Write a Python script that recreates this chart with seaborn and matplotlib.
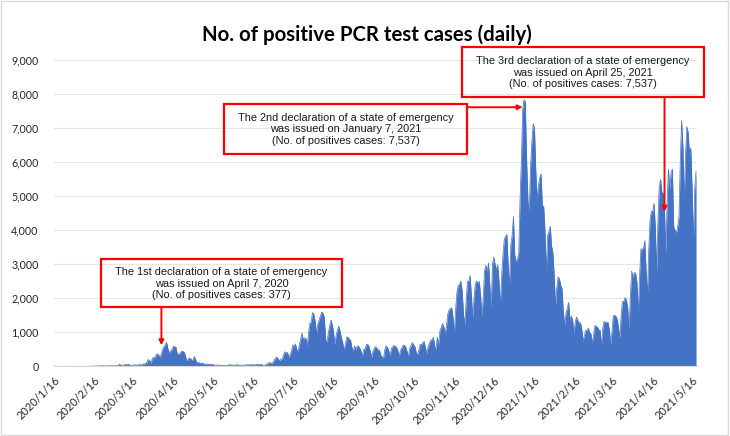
import numpy as np
import pandas as pd
import matplotlib
matplotlib.use("Agg")
import matplotlib.pyplot as plt
import matplotlib.dates as mdates
from matplotlib.patches import Rectangle
import seaborn as sns

# ---------------- data ----------------
start_date = "2020-01-16"
cases_2020_01 = [1, 0, 0, 0, 0, 0, 0, 0, 1, 1, 0, 0, 1, 2, 3, 1]
cases_2020_02 = [1, 0, 0, 0, 1, 0, 0, 0, 0, 0, 1, 0, 1, 4, 9, 5, 6, 6, 8, 9,
                 13, 23, 5, 10, 13, 13, 11, 20, 12]
cases_2020_03 = [15, 14, 12, 20, 33, 59, 39, 29, 33, 52, 54, 41, 64, 24, 15, 38,
                 32, 44, 39, 35, 53, 43, 39, 71, 65, 96, 112, 200, 173, 87, 225]
cases_2020_04 = [266, 235, 351, 368, 328, 256, 377, 515, 576, 644, 700, 507, 390,
                 457, 482, 584, 576, 568, 373, 346, 378, 434, 436, 436, 345, 203,
                 167, 248, 230, 200]
cases_2020_05 = [165, 294, 204, 87, 123, 96, 75, 96, 84, 57, 51, 73, 56, 46, 67,
                 56, 36, 36, 40, 33, 33, 26, 34, 20, 21, 14, 22, 35, 49, 42, 33]
cases_2020_06 = [37, 26, 48, 41, 30, 38, 22, 23, 40, 36, 43, 42, 43, 47, 43, 50,
                 42, 43, 68, 42, 57, 59, 33, 31, 38, 60, 78, 109, 101, 81]
cases_2020_07 = [125, 195, 250, 273, 208, 164, 216, 206, 352, 430, 384, 408, 259,
                 334, 457, 622, 594, 660, 509, 418, 630, 794, 981, 770, 839, 815,
                 598, 981, 1264, 1301, 1580]
cases_2020_08 = [1536, 1331, 958, 1237, 1356, 1485, 1595, 1568, 1442, 787, 700,
                 965, 1176, 1360, 1230, 1012, 636, 908, 1073, 1179, 1034, 840, 690,
                 478, 632, 859, 861, 803, 768, 560, 430]
cases_2020_09 = [600, 500, 590, 600, 530, 440, 290, 500, 510, 640, 650, 580, 440,
                 270, 430, 530, 580, 530, 470, 480, 320, 280, 210, 480, 600, 560,
                 460, 300, 520, 570]
cases_2020_10 = [620, 580, 560, 460, 290, 470, 540, 620, 620, 560, 440, 270, 530,
                 610, 700, 630, 580, 400, 340, 480, 650, 630, 700, 730, 540, 370,
                 570, 680, 770, 780, 850]
cases_2020_11 = [610, 480, 860, 640, 1040, 1140, 1260, 1160, 950, 1180, 1540, 1660,
                 1700, 1720, 1430, 950, 1690, 2200, 2380, 2420, 2500, 2190, 1520,
                 1230, 1940, 2500, 2500, 2670, 2060, 1420]
cases_2020_12 = [2030, 2430, 2510, 2430, 2500, 2060, 1460, 2050, 2810, 2970, 2780,
                 3040, 2390, 1680, 2990, 3210, 3000, 2830, 2990, 2500, 1780, 2660,
                 3270, 3740, 3820, 3880, 2940, 2400, 3590, 3850, 4400]
cases_2021_01 = [3260, 3080, 3150, 3320, 4910, 6000, 7540, 7840, 7790, 6100, 4880,
                 4540, 5870, 6600, 7130, 7010, 5760, 4920, 5320, 5540, 5660, 4710,
                 4710, 3990, 2760, 3850, 3960, 4120, 3540, 3340, 2670]
cases_2021_02 = [1790, 2320, 2630, 2570, 2380, 2280, 1570, 1230, 1570, 1710, 1880,
                 1360, 1480, 1370, 960, 1300, 1450, 1350, 1270, 1280, 1090, 740,
                 900, 1060, 1040, 1130, 990, 960]
cases_2021_03 = [680, 930, 1200, 1180, 1150, 1070, 1060, 600, 1120, 1320, 1280,
                 1300, 1290, 1070, 660, 1020, 1490, 1500, 1470, 1380, 1140, 820,
                 1520, 1900, 1910, 2020, 1950, 1700, 1080, 2070, 2800]
cases_2021_04 = [2610, 2760, 2740, 2470, 1570, 2650, 3450, 3450, 3460, 3700, 2780,
                 2090, 3450, 4310, 4570, 4530, 4800, 4090, 2760, 4330, 5290, 5500,
                 5120, 5080, 4600, 3310, 4860, 5790, 5200, 5700]
cases_2021_05 = [5800, 4100, 4000, 3900, 4100, 4400, 6050, 7230, 6470, 4880, 6240,
                 7050, 6880, 6260, 6420, 5230, 3680, 5230, 5740]

tick_labels = ["2020/1/16", "2020/2/16", "2020/3/16", "2020/4/16", "2020/5/16",
               "2020/6/16", "2020/7/16", "2020/8/16", "2020/9/16", "2020/10/16",
               "2020/11/16", "2020/12/16", "2021/1/16", "2021/2/16", "2021/3/16",
               "2021/4/16", "2021/5/16"]
y_ticks = [0, 1000, 2000, 3000, 4000, 5000, 6000, 7000, 8000, 9000]

title = "No. of positive PCR test cases (daily)"
note_texts = [
    "The 1st declaration of a state of emergency\nwas issued on April 7, 2020\n(No. of positives cases: 377)",
    "The 2nd declaration of a state of emergency\nwas issued on January 7, 2021\n(No. of positives cases: 7,537)",
    "The 3rd declaration of a state of emergency\nwas issued on April 25, 2021\n(No. of positives cases: 7,537)",
]
decl_dates = ["2020-04-07", "2021-01-07", "2021-04-25"]

# ---------------- build frame ----------------
values = np.concatenate([cases_2020_01, cases_2020_02, cases_2020_03, cases_2020_04,
                         cases_2020_05, cases_2020_06, cases_2020_07, cases_2020_08,
                         cases_2020_09, cases_2020_10, cases_2020_11, cases_2020_12,
                         cases_2021_01, cases_2021_02, cases_2021_03, cases_2021_04,
                         cases_2021_05]).astype(float)
dates = pd.date_range(start_date, periods=len(values), freq="D")
df = pd.DataFrame({"date": dates, "cases": values})

# ---------------- style ----------------
sns.set_theme(style="white")
plt.rcParams["font.family"] = ["Lato", "DejaVu Sans"]

W, H = 730, 436
fig = plt.figure(figsize=(W / 100, H / 100), dpi=100)


def fx(px):
    return px / W


def fy(py):
    return 1 - py / H


L, R, T, B = 53.7, 696.7, 60.3, 366.3
ax = fig.add_axes([fx(L), fy(B), fx(R) - fx(L), fy(T) - fy(B)])

blue = "#4472C4"
ax.fill_between(df["date"], df["cases"], 0, color=blue, lw=0, zorder=2)
sns.lineplot(data=df, x="date", y="cases", ax=ax, color=blue, lw=0.5, zorder=3)

t0 = pd.Timestamp(start_date)
ax.set_xlim(t0, t0 + pd.Timedelta(hours=489.5 * 24))
ax.set_ylim(0, 9000)

tick_pos = pd.to_datetime(tick_labels, format="%Y/%m/%d")
ax.set_xticks(mdates.date2num(tick_pos))
ax.set_xticklabels(tick_labels, rotation=45, ha="right", rotation_mode="anchor")
ax.set_yticks(y_ticks)
ax.set_yticklabels([f"{v:,}" for v in y_ticks])
ax.tick_params(axis="x", length=4, width=0.8, color="#bfbfbf", pad=2,
               labelsize=7.9, labelcolor="#262626")
ax.tick_params(axis="y", length=0, pad=11, labelsize=7.7, labelcolor="#262626")
ax.set_xlabel("")
ax.set_ylabel("")

ax.yaxis.grid(True, color="#e6e6e6", lw=0.8, zorder=0)
ax.xaxis.grid(False)
ax.set_axisbelow(True)
for s in ["left", "right", "top"]:
    ax.spines[s].set_visible(False)
ax.spines["bottom"].set_color("#d9d9d9")
ax.spines["bottom"].set_linewidth(0.8)

# title
fig.text(fx(367), fy(34.5), title, ha="center", va="center", fontsize=14.7,
         fontweight="bold", color="#000000")

# annotation boxes (pixel layout)
boxes = [(100.7, 258.7, 342.3, 307.3), (224.3, 103.7, 466.7, 154.0),
         (461.7, 47.3, 704.0, 97.3)]
red = "#FF0000"
for (x0, y0, x1, y1), txt in zip(boxes, note_texts):
    fig.add_artist(Rectangle((fx(x0), fy(y1)), fx(x1) - fx(x0), fy(y0) - fy(y1),
                             transform=fig.transFigure, fill=False, ec=red,
                             lw=1.6, zorder=5))
    fig.text(fx((x0 + x1) / 2), fy((y0 + y1) / 2 + 0.5), txt, ha="center",
             va="center", fontsize=7.95, family=["Liberation Sans", "DejaVu Sans"],
             linespacing=1.2, color="#1a1a1a", zorder=6)

aprops = dict(arrowstyle="-|>", color=red, lw=1.4, mutation_scale=7,
              shrinkA=0, shrinkB=0)
d1, d2, d3 = [pd.Timestamp(d) for d in decl_dates]
ax.annotate("", xy=(d1, 620), xytext=(d1, fy(307.3)),
            textcoords=("data", "figure fraction"), arrowprops=aprops,
            annotation_clip=False, zorder=7)
ax.annotate("", xy=(d2, 7620), xytext=(fx(466.7), 7620),
            textcoords=("figure fraction", "data"), arrowprops=aprops,
            annotation_clip=False, zorder=7)
ax.annotate("", xy=(d3, 4550), xytext=(d3, fy(97.3)),
            textcoords=("data", "figure fraction"), arrowprops=aprops,
            annotation_clip=False, zorder=7)

# outer chart border
fig.add_artist(Rectangle((0.001, 0.002), 0.996, 0.995, transform=fig.transFigure,
                         fill=False, ec="#d9d9d9", lw=1.0))

fig.savefig("out.png", dpi=100)
